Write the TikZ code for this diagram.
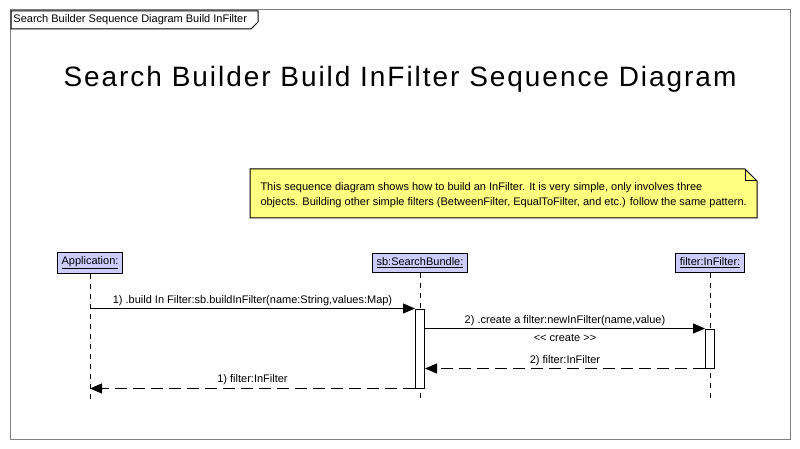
\documentclass[tikz,border=0pt]{standalone}
\usepackage{fontspec}
\setmainfont{Liberation Sans}
\newfontfamily\titlefont{Liberation Sans}[LetterSpace=7]
\usetikzlibrary{arrows.meta,calc}
\definecolor{notecolor}{HTML}{FFFF80}
\definecolor{objcolor}{HTML}{CCCCFF}
\definecolor{framecolor}{HTML}{808080}

\begin{document}
\begin{tikzpicture}[x=0.75pt, y=-0.75pt, line width=0.75pt, >={Triangle[length=9pt,width=7.5pt]},
    font=\fontsize{8.25}{10}\selectfont,
    obj/.style={draw, fill=objcolor, minimum height=13.5pt, inner xsep=3pt},
    life/.style={dash pattern=on 3.75pt off 3.75pt},
    act/.style={draw, fill=white, minimum width=6.75pt, inner sep=0pt},
    ret/.style={->, dash pattern=on 9pt off 4.5pt}]
    \useasboundingbox (0,0) rectangle (800,449);

    % Frame and tab
    \draw[framecolor] (10,10) rectangle (790,439);
    \draw[fill=white] (11,11) -- (258,11) -- (258,22) -- (251,29) -- (11,29) -- cycle;
    \node[anchor=west, inner sep=0pt] (tab) at (13,20) {Search Builder Sequence Diagram Build InFilter};

    % Title
    \node[anchor=base, inner sep=0pt, font=\titlefont\fontsize{21}{25}\selectfont] (title) at (400,87)
        {Search Builder Build InFilter Sequence Diagram};

    % Note
    \draw[fill=notecolor] (250,169) -- (745,169) -- (757,181) -- (757,218) -- (250,218) -- cycle;
    \draw (745,169) -- (745,181) -- (757,181);
    \node[anchor=north west, inner sep=0pt, align=left, font=\fontsize{8.25}{11.25}\selectfont] (note) at (260,182)
        {This sequence diagram shows how to build an InFilter. It is very simple, only involves three\\
         objects. Building other simple filters (BetweenFilter, EqualToFilter, and etc.) follow the same pattern.};

    % Objects
    \node[obj] (app) at (90,263) {\underline{Application:}};
    \node[obj] (sb) at (420,263) {\underline{sb:SearchBundle:}};
    \node[obj] (filter) at (710,263) {\underline{filter:InFilter:}};
    \coordinate (bottom) at (0,403);

    % Lifelines
    \draw[life] (app.south) -- (app.south |- bottom);
    \draw[life] (sb.south) -- (sb.south |- bottom);
    \draw[life] (filter.south) -- (filter.south |- bottom);

    % Activations
    \node[act, minimum height=59.25pt] (sbact) at (420,348.5) {};
    \node[act, minimum height=29.25pt] (fact) at (710,348.5) {};

    % Messages
    \draw[->] (app |- sbact.north) -- (sbact.north west)
        node[midway, above=-1.5pt] {1) .build In Filter:sb.buildInFilter(name:String,values:Map)};
    \draw[->] (sbact.east |- fact.north) -- (fact.north west)
        node[midway, above=-1.5pt] {2) .create a filter:newInFilter(name,value)}
        node[midway, below=1pt] {<\kern0pt< create >\kern0pt>};
    \draw[ret] (fact.south west) -- (sbact.east |- fact.south)
        node[midway, above=-1.5pt] {2) filter:InFilter};
    \draw[ret] (sbact.south west) -- (app |- sbact.south)
        node[midway, above=-1pt] {1) filter:InFilter};
\end{tikzpicture}
\end{document}
